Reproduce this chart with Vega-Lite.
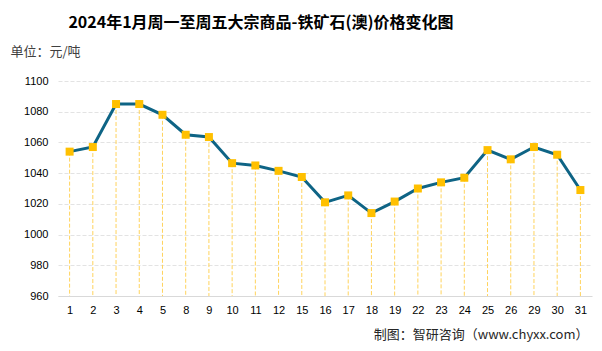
{
  "$schema": "https://vega.github.io/schema/vega-lite/v6.json",
  "autosize": {"type": "none"},
  "width": 534,
  "height": 215,
  "padding": {"left": 58, "top": 81, "right": 10, "bottom": 55},
  "background": "white",
  "title": {
    "text": "2024年1月周一至周五大宗商品-铁矿石(澳)价格变化图",
    "font": "Noto Sans CJK SC",
    "fontSize": 16,
    "fontWeight": "bold",
    "color": "#000000",
    "anchor": "middle",
    "frame": "group",
    "dx": -64,
    "offset": 14
  },
  "data": {
    "values": [
      {"day": "1", "price": 1054},
      {"day": "2", "price": 1057},
      {"day": "3", "price": 1085},
      {"day": "4", "price": 1085},
      {"day": "5", "price": 1078},
      {"day": "8", "price": 1065},
      {"day": "9", "price": 1063.5},
      {"day": "10", "price": 1046.5},
      {"day": "11", "price": 1045},
      {"day": "12", "price": 1041.5},
      {"day": "15", "price": 1037.5},
      {"day": "16", "price": 1021},
      {"day": "17", "price": 1025.5},
      {"day": "18", "price": 1014},
      {"day": "19", "price": 1021.5},
      {"day": "22", "price": 1030},
      {"day": "23", "price": 1034},
      {"day": "24", "price": 1037},
      {"day": "25", "price": 1055},
      {"day": "26", "price": 1049},
      {"day": "29", "price": 1057},
      {"day": "30", "price": 1052},
      {"day": "31", "price": 1029}
    ]
  },
  "encoding": {
    "x": {
      "field": "day",
      "type": "ordinal",
      "sort": null,
      "scale": {"type": "point", "padding": 0.5},
      "axis": {
        "title": "制图：智研咨询（www.chyxx.com）",
        "titleFont": "Noto Sans CJK SC",
        "titleFontSize": 13,
        "titleFontWeight": "normal",
        "titleColor": "#262626",
        "titleAnchor": null,
        "titleAlign": "right",
        "titleBaseline": "middle",
        "titleX": 530,
        "titleY": 38,
        "labelAngle": 0,
        "labelFont": "Liberation Sans",
        "labelFontSize": 11,
        "labelColor": "#000000",
        "labelPadding": 8,
        "ticks": false,
        "grid": false,
        "domain": true,
        "domainColor": "#D9D9D9",
        "domainWidth": 1
      }
    },
    "y": {
      "field": "price",
      "type": "quantitative",
      "scale": {"domain": [960, 1100], "nice": false, "zero": false},
      "axis": {
        "title": "单位：元/吨",
        "titleFont": "Noto Sans CJK SC",
        "titleFontSize": 13,
        "titleFontWeight": "normal",
        "titleColor": "#404040",
        "titleAngle": 0,
        "titleAnchor": null,
        "titleAlign": "left",
        "titleBaseline": "middle",
        "titleX": -48,
        "titleY": -30,
        "values": [960, 980, 1000, 1020, 1040, 1060, 1080, 1100],
        "format": "d",
        "labelFont": "Liberation Sans",
        "labelFontSize": 11,
        "labelColor": "#000000",
        "labelPadding": 10,
        "ticks": false,
        "domain": false,
        "grid": true,
        "gridColor": "#E3E3E3",
        "gridDash": [4, 2],
        "gridWidth": 1
      }
    }
  },
  "layer": [
    {
      "mark": {"type": "rule", "color": "#FFD35C", "strokeWidth": 1, "strokeDash": [4, 2]},
      "encoding": {"y2": {"datum": 960}}
    },
    {
      "mark": {"type": "line", "color": "#0E6485", "strokeWidth": 3}
    },
    {
      "mark": {"type": "point", "shape": "square", "filled": true, "color": "#FFC000", "size": 64, "opacity": 1}
    }
  ],
  "config": {
    "view": {"stroke": null}
  }
}
